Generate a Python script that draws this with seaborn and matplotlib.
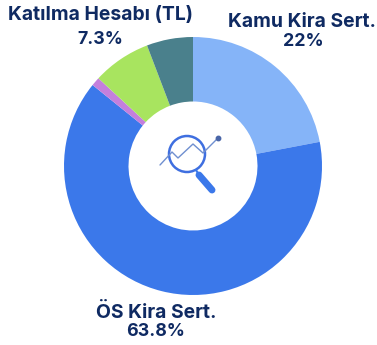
import matplotlib
matplotlib.use("Agg")
import matplotlib.pyplot as plt
import seaborn as sns
from matplotlib.patches import Circle

categories = ["Kamu Kira Sert.", "ÖS Kira Sert.", "Diğer", "Katılma Hesabı (TL)", "Diğer 2"]
values = [22.0, 63.8, 1.1, 7.3, 5.8]
colors = ["#85B4F8", "#3B78EA", "#C47FDC", "#A8E45F", "#4A808C"]
label_color = "#0F2A62"

sns.set_theme(style="white")
plt.rcParams["font.family"] = ["Inter", "DejaVu Sans"]

W, H = 377, 345
fig = plt.figure(figsize=(W / 100, H / 100), dpi=100, facecolor="white")
ax = fig.add_axes([0, 0, 1, 1])
ax.set_xlim(0, W)
ax.set_ylim(H, 0)
ax.set_aspect("equal")
ax.axis("off")

# pie in its own axes
cx, cy, R = 193, 166, 129
pax = fig.add_axes([(cx - R) / W, 1 - (cy + R) / H, 2 * R / W, 2 * R / H])
pax.pie(values, colors=sns.color_palette(colors), startangle=90, counterclock=False,
        radius=1.0, wedgeprops=dict(width=0.5, linewidth=0))
pax.set_xlim(-1, 1)
pax.set_ylim(-1, 1)
pax.set_zorder(0)
ax.set_zorder(1)
ax.patch.set_alpha(0)

# labels
kw = dict(ha="center", va="center", fontsize=13.9, fontweight="bold", color=label_color)
kw2 = dict(kw, fontsize=12.8)
ax.text(100, 15, "Katılma Hesabı (TL)", **kw)
ax.text(100, 39, "7.3%", **kw2)
ax.text(302, 22, "Kamu Kira Sert.", **kw)
ax.text(303, 42, "22%", **kw2)
ax.text(156, 313, "ÖS Kira Sert.", **kw)
ax.text(156, 332, "63.8%", **kw2)

# magnifier icon
ax.plot([160, 172, 178, 193, 203, 218], [165, 152, 158, 144, 153, 138],
        color="#6F8FD0", lw=1.0, solid_capstyle="round")
ax.plot([218], [138], "o", ms=3.2, color="#4A66A8")
ax.add_patch(Circle((187, 154), 18, fill=False, ec="#3F6FE0", lw=1.8))
ax.plot([199, 212], [175, 190], color="#3B78EA", lw=5, solid_capstyle="round")
ax.plot([196, 199], [170, 175], color="#3B78EA", lw=1.5)

fig.savefig("out.png", dpi=100, facecolor="white")
